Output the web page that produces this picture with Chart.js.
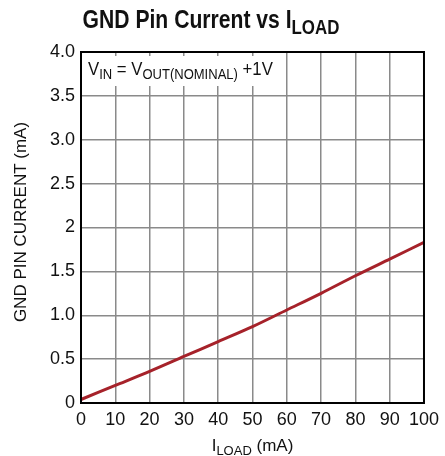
<!DOCTYPE html>
<html>
<head>
<meta charset="utf-8">
<script src="https://cdn.jsdelivr.net/npm/chart.js@4/dist/chart.umd.min.js"></script>
<style>
  html, body { margin: 0; padding: 0; background: #fff; }
  #wrap { width: 445px; height: 456px; position: relative; }
</style>
</head>
<body>
<div id="wrap"><canvas id="chart"></canvas></div>
<script>
// data
const loadCurrent = [0, 10, 20, 30, 40, 50, 60, 70, 80, 90, 100];        // mA
const gndCurrent  = [0.04, 0.20, 0.36, 0.53, 0.70, 0.87, 1.06, 1.25, 1.45, 1.64, 1.83]; // mA
const yTickValues = [0, 0.5, 1, 1.5, 2, 2.5, 3, 3.5, 4];
const yTickLabels = ['0', '0.5', '1.0', '1.5', '2', '2.5', '3.0', '3.5', '4.0'];

const FONT = '"Liberation Sans", Arial, sans-serif';
const LINE_RED = '#a6222a';
const GRID = '#8a8a8a';

// text with subscripts, squeezed horizontally by sx (the original uses a narrow face)
// parts = [[text, isSub], ...]
function drawRuns(ctx, parts, x, y, size, bold, align, sx) {
  const font = (s) => `${bold ? 'bold ' : ''}${s}px ${FONT}`;
  const subSize = Math.round(size * 0.78);
  let total = 0;
  parts.forEach(([t, sub]) => { ctx.font = font(sub ? subSize : size); total += ctx.measureText(t).width; });
  ctx.save();
  ctx.translate(align === 'center' ? x - total * sx / 2 : x, y);
  ctx.scale(sx, 1);
  ctx.textAlign = 'left';
  ctx.textBaseline = 'alphabetic';
  let cx = 0;
  parts.forEach(([t, sub]) => {
    ctx.font = font(sub ? subSize : size);
    ctx.fillText(t, cx, sub ? size * 0.24 : 0);
    cx += ctx.measureText(t).width;
  });
  ctx.restore();
}

const decorations = {
  id: 'decorations',
  beforeDatasetsDraw(chart) {
    // white box behind the condition text
    const ctx = chart.ctx, a = chart.chartArea;
    ctx.save();
    ctx.fillStyle = '#fff';
    ctx.fillRect(a.left + 1, a.top + 4, 200, 30);
    ctx.fillStyle = '#111';
    drawRuns(ctx, [['V', false], ['IN', true], [' = V', false], ['OUT(NOMINAL)', true], [' +1V', false]],
      a.left + 7, a.top + 23, 18, false, 'left', 0.93);
    ctx.restore();
  },
  afterDraw(chart) {
    const ctx = chart.ctx, a = chart.chartArea;
    ctx.save();
    // frame
    ctx.strokeStyle = '#000';
    ctx.lineWidth = 2;
    ctx.strokeRect(a.left, a.top, a.right - a.left, a.bottom - a.top);
    ctx.fillStyle = '#111';
    // title
    drawRuns(ctx, [['GND Pin Current vs I', false], ['LOAD', true]], 211, 28, 25, true, 'center', 0.845);
    // x axis title
    drawRuns(ctx, [['I', false], ['LOAD', true], [' (mA)', false]], (a.left + a.right) / 2, 451, 17, false, 'center', 1);
    // y axis title
    ctx.translate(26, 222);
    ctx.rotate(-Math.PI / 2);
    drawRuns(ctx, [['GND PIN CURRENT (mA)', false]], 0, 0, 17, false, 'center', 1);
    ctx.restore();
  }
};

new Chart(document.getElementById('chart'), {
  type: 'line',
  data: {
    datasets: [{
      data: loadCurrent.map((x, i) => ({ x, y: gndCurrent[i] })),
      borderColor: LINE_RED,
      borderWidth: 3,
      pointRadius: 0,
      tension: 0.3,
      fill: false
    }]
  },
  options: {
    responsive: true,
    maintainAspectRatio: false,
    animation: false,
    layout: { padding: { top: 52, right: 12, left: 0, bottom: 0 } },
    plugins: { legend: { display: false }, tooltip: { enabled: false } },
    scales: {
      x: {
        type: 'linear', min: 0, max: 100,
        afterFit: (s) => { s.height = 53; },
        ticks: { stepSize: 10, color: '#111', padding: 6, font: { family: FONT, size: 18 }, maxRotation: 0 },
        grid: { color: GRID, lineWidth: 1.5, drawTicks: false },
        border: { display: false }
      },
      y: {
        type: 'linear', min: 0, max: 4,
        afterFit: (s) => { s.width = 81; },
        afterBuildTicks: (s) => { s.ticks = yTickValues.map(v => ({ value: v })); },
        ticks: {
          color: '#111', padding: 6, font: { family: FONT, size: 18 },
          callback: (v) => yTickLabels[yTickValues.indexOf(v)]
        },
        grid: { color: GRID, lineWidth: 1.5, drawTicks: false },
        border: { display: false }
      }
    }
  },
  plugins: [decorations]
});
</script>
</body>
</html>
